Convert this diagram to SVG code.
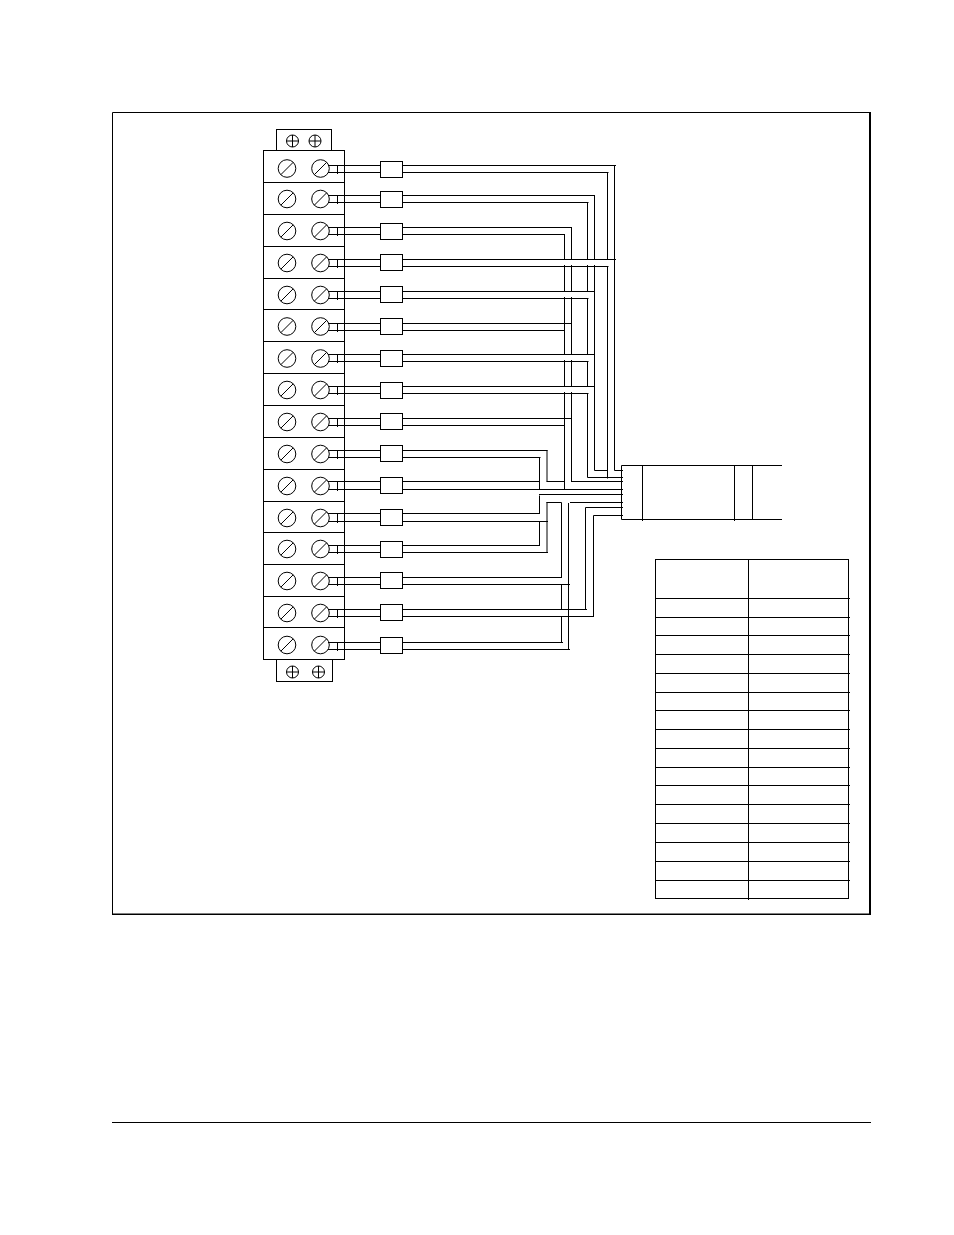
<svg xmlns="http://www.w3.org/2000/svg" width="954" height="1235" viewBox="0 0 954 1235">
<style>
line,path,rect,circle{fill:none;stroke:#000;stroke-width:1}
.box{fill:#fff}
.thick{stroke-width:2}
.base{stroke-width:1.6}
</style>
<defs>
<g id="screw"><circle r="8.8"/><path d="M-6.2 6.2L6.2 -6.2"/></g>
<g id="pan"><circle r="6"/><path d="M-6 0H6M0 -6V6"/></g>
</defs>
<rect width="954" height="1235" style="fill:#fff;stroke:none"/>
<g id="frame">
<path d="M870 112.5H112.5V914"/>
<path class="thick" d="M870 112V915"/>
<path class="base" d="M112 914.3H871"/>
</g>
<line id="footer-rule" x1="112" y1="1122.5" x2="871" y2="1122.5"/>
<g id="connectors">
<path id="stubs" d="M328 165.5H380.5M328 172.5H380.5M337.5 165.5V174M328 195.5H380.5M328 202.5H380.5M337.5 195.5V204M328 227.5H380.5M328 234.5H380.5M337.5 227.5V236M328 259.5H380.5M328 266.5H380.5M337.5 259.5V268M328 291.5H380.5M328 298.5H380.5M337.5 291.5V300M328 323.5H380.5M328 330.5H380.5M337.5 323.5V332M328 354.5H380.5M328 361.5H380.5M337.5 354.5V363M328 386.5H380.5M328 393.5H380.5M337.5 386.5V395M328 418.5H380.5M328 425.5H380.5M337.5 418.5V427M328 450.5H380.5M328 457.5H380.5M337.5 450.5V459M328 481.5H380.5M328 489.5H380.5M337.5 481.5V491M328 513.5H380.5M328 521.5H380.5M337.5 513.5V523M328 545.5H380.5M328 552.5H380.5M337.5 545.5V554M328 577.5H380.5M328 584.5H380.5M337.5 577.5V586M328 609.5H380.5M328 616.5H380.5M337.5 609.5V618M328 642.5H380.5M328 649.5H380.5M337.5 642.5V651"/>
<path id="runs" d="M402.5 165.5H616M402.5 172.5H608.5M402.5 195.5H595M402.5 202.5H588.5M402.5 227.5H572M402.5 234.5H565M402.5 259.5H616M402.5 266.5H608.5M402.5 291.5H595M402.5 298.5H588.5M402.5 323.5H572M402.5 330.5H565M402.5 354.5H595M402.5 361.5H588.5M402.5 386.5H595M402.5 393.5H588.5M402.5 418.5H572M402.5 425.5H565M402.5 450.5H547.5M402.5 457.5H540.5M402.5 481.5H539.5M546.5 481.5H564.5M571 481.5H623M402.5 489.5H623M402.5 513.5H540M402.5 521.5H548M402.5 545.5H540M402.5 552.5H548M402.5 577.5H562M402.5 584.5H570M402.5 609.5H587M402.5 616.5H594M402.5 642.5H563M402.5 649.5H570"/>
<path id="risers" d="M614.5 165V470.5H623M607.5 172V260M607.5 266V478.5M594.5 195V260M594.5 265V470.5H607.5M587.5 202V260M587.5 265V292M587.5 298V355M587.5 361V387M587.5 393V477.5M587.5 477.5H623M571.5 227V260M571.5 265V292M571.5 297V355M571.5 360V387M571.5 392V481.5M564.5 234V260M564.5 265V292M564.5 297V355M564.5 360V387M564.5 392V489.5M547 450V481.5M539.5 457V489.5M539.5 495.5V513.5M539.5 522V545.5M539 494.5H623M547 502V552.5M546.5 502.5H561.5M561.5 502.5V578M570 502.5H623M568.5 503V650M561.5 585V610M561.5 617V643M585.5 507.5H623M585.5 507.5V609.5M593.5 515.5H623M593.5 515.5V616.5"/>
</g>
<g id="terminal-tab-top"><rect x="276.5" y="129.5" width="55" height="21"/><use href="#pan" x="292.5" y="141"/><use href="#pan" x="315" y="141"/></g>
<g id="terminal-tab-bottom"><rect x="276.5" y="659.5" width="56" height="22"/><use href="#pan" x="292.5" y="672"/><use href="#pan" x="318.5" y="672"/></g>
<g id="terminal-1"><rect x="263.5" y="150.5" width="81" height="32"/><use href="#screw" x="287" y="168.5"/><use href="#screw" x="320.5" y="168.5"/></g>
<g id="terminal-2"><rect x="263.5" y="182.5" width="81" height="32"/><use href="#screw" x="287" y="199"/><use href="#screw" x="320.5" y="199"/></g>
<g id="terminal-3"><rect x="263.5" y="214.5" width="81" height="32"/><use href="#screw" x="287" y="231"/><use href="#screw" x="320.5" y="231"/></g>
<g id="terminal-4"><rect x="263.5" y="246.5" width="81" height="32"/><use href="#screw" x="287" y="263"/><use href="#screw" x="320.5" y="263"/></g>
<g id="terminal-5"><rect x="263.5" y="278.5" width="81" height="31"/><use href="#screw" x="287" y="295"/><use href="#screw" x="320.5" y="295"/></g>
<g id="terminal-6"><rect x="263.5" y="309.5" width="81" height="32"/><use href="#screw" x="287" y="326.5"/><use href="#screw" x="320.5" y="326.5"/></g>
<g id="terminal-7"><rect x="263.5" y="341.5" width="81" height="32"/><use href="#screw" x="287" y="358.5"/><use href="#screw" x="320.5" y="358.5"/></g>
<g id="terminal-8"><rect x="263.5" y="373.5" width="81" height="32"/><use href="#screw" x="287" y="390"/><use href="#screw" x="320.5" y="390"/></g>
<g id="terminal-9"><rect x="263.5" y="405.5" width="81" height="32"/><use href="#screw" x="287" y="422"/><use href="#screw" x="320.5" y="422"/></g>
<g id="terminal-10"><rect x="263.5" y="437.5" width="81" height="32"/><use href="#screw" x="287" y="454"/><use href="#screw" x="320.5" y="454"/></g>
<g id="terminal-11"><rect x="263.5" y="469.5" width="81" height="32"/><use href="#screw" x="287" y="486"/><use href="#screw" x="320.5" y="486"/></g>
<g id="terminal-12"><rect x="263.5" y="501.5" width="81" height="31"/><use href="#screw" x="287" y="518"/><use href="#screw" x="320.5" y="518"/></g>
<g id="terminal-13"><rect x="263.5" y="532.5" width="81" height="32"/><use href="#screw" x="287" y="549"/><use href="#screw" x="320.5" y="549"/></g>
<g id="terminal-14"><rect x="263.5" y="564.5" width="81" height="32"/><use href="#screw" x="287" y="581"/><use href="#screw" x="320.5" y="581"/></g>
<g id="terminal-15"><rect x="263.5" y="596.5" width="81" height="31"/><use href="#screw" x="287" y="613"/><use href="#screw" x="320.5" y="613"/></g>
<g id="terminal-16"><rect x="263.5" y="627.5" width="81" height="32"/><use href="#screw" x="287" y="645"/><use href="#screw" x="320.5" y="645"/></g>
<g id="fuse-1"><rect class="box" x="380.5" y="161.5" width="22" height="16"/></g>
<g id="fuse-2"><rect class="box" x="380.5" y="191.5" width="22" height="16"/></g>
<g id="fuse-3"><rect class="box" x="380.5" y="223.5" width="22" height="16"/></g>
<g id="fuse-4"><rect class="box" x="380.5" y="254.5" width="22" height="16"/></g>
<g id="fuse-5"><rect class="box" x="380.5" y="286.5" width="22" height="16"/></g>
<g id="fuse-6"><rect class="box" x="380.5" y="318.5" width="22" height="16"/></g>
<g id="fuse-7"><rect class="box" x="380.5" y="350.5" width="22" height="16"/></g>
<g id="fuse-8"><rect class="box" x="380.5" y="382.5" width="22" height="16"/></g>
<g id="fuse-9"><rect class="box" x="380.5" y="413.5" width="22" height="16"/></g>
<g id="fuse-10"><rect class="box" x="380.5" y="445.5" width="22" height="16"/></g>
<g id="fuse-11"><rect class="box" x="380.5" y="477.5" width="22" height="16"/></g>
<g id="fuse-12"><rect class="box" x="380.5" y="509.5" width="22" height="16"/></g>
<g id="fuse-13"><rect class="box" x="380.5" y="541.5" width="22" height="16"/></g>
<g id="fuse-14"><rect class="box" x="380.5" y="572.5" width="22" height="16"/></g>
<g id="fuse-15"><rect class="box" x="380.5" y="604.5" width="22" height="16"/></g>
<g id="fuse-16"><rect class="box" x="380.5" y="637.5" width="22" height="16"/></g>
<g id="cable-connector">
<path d="M782 465.5H621.5V519.5H782M642.5 465.5V521M734.5 465.5V521M752.5 465.5V519.5"/>
</g>
<g id="pin-table">
<rect x="655.5" y="559.5" width="193" height="339"/>
<path d="M748.5 559.5V900M655.5 598.5H850M655.5 617.5H850M655.5 635.5H850M655.5 654.5H850M655.5 673.5H850M655.5 692.5H850M655.5 710.5H850M655.5 729.5H850M655.5 748.5H850M655.5 767.5H850M655.5 785.5H850M655.5 804.5H850M655.5 823.5H850M655.5 842.5H850M655.5 861.5H850M655.5 880.5H850"/>
</g>
</svg>
